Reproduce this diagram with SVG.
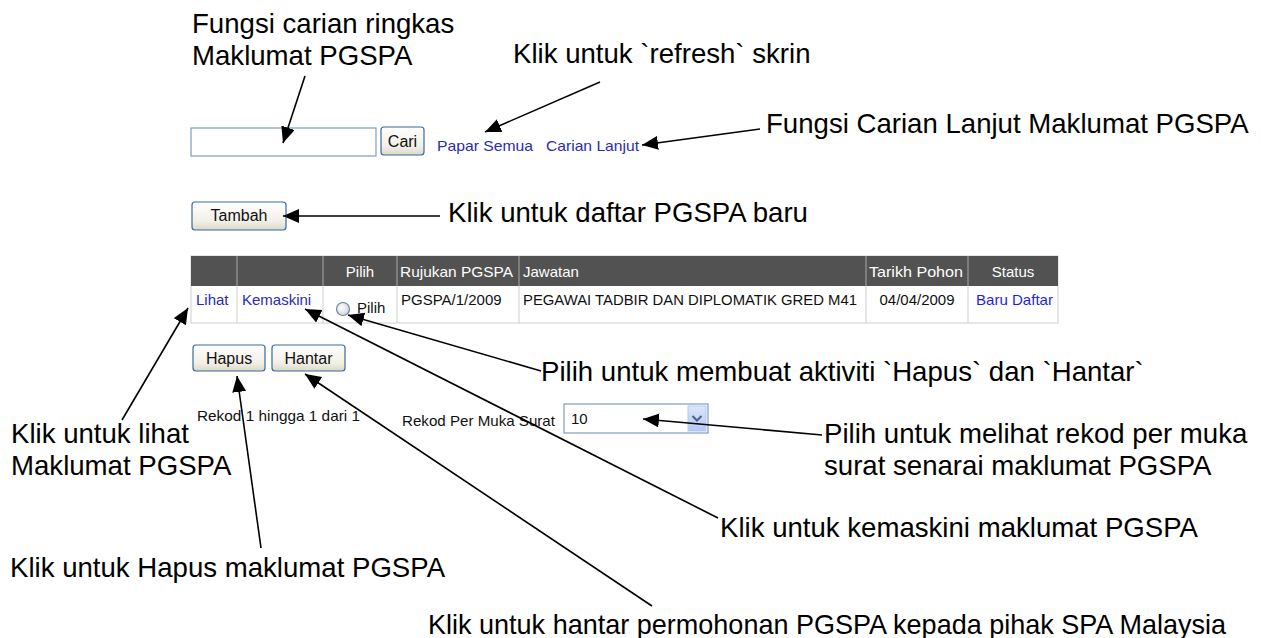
<svg xmlns="http://www.w3.org/2000/svg" width="1261" height="638" viewBox="0 0 1261 638">
<style>
.ann{font-family:"Liberation Sans",Arial,sans-serif;font-size:27.6px;fill:#000}
.ui{font-family:"Liberation Sans",Arial,sans-serif;font-size:15px;fill:#111}
.lnk{font-family:"Liberation Sans",Arial,sans-serif;font-size:15px;fill:#2b2bb0}
.hdr{font-family:"Liberation Sans",Arial,sans-serif;font-size:15px;fill:#fff}
.btn{fill:url(#bg);stroke:#3d6a9c;stroke-width:1.2}
.btxt{font-family:"Liberation Sans",Arial,sans-serif;font-size:16px;fill:#111;text-anchor:middle}
.conn line{stroke:#000;stroke-width:1.6;marker-end:url(#ah)}
</style>
<defs>
<linearGradient id="bg" x1="0" y1="0" x2="0" y2="1">
<stop offset="0" stop-color="#ffffff"/><stop offset="0.7" stop-color="#f1efe6"/><stop offset="1" stop-color="#dcd8c8"/>
</linearGradient>
<linearGradient id="dd" x1="0" y1="0" x2="0" y2="1">
<stop offset="0" stop-color="#dbe6fd"/><stop offset="1" stop-color="#b3c8f5"/>
</linearGradient>
<radialGradient id="rg" cx="0.4" cy="0.4" r="0.7">
<stop offset="0" stop-color="#ffffff"/><stop offset="1" stop-color="#c9cfd8"/>
</radialGradient>
<marker id="ah" markerUnits="userSpaceOnUse" markerWidth="18" markerHeight="16" refX="16" refY="7" orient="auto">
<path d="M0,0 L16,7 L0,14 Z" fill="#000"/>
</marker>
</defs>
<rect width="1261" height="638" fill="#fff"/>

<g id="search-box">
<rect x="191" y="128" width="185" height="28" fill="#fff" stroke="#7f9db9" stroke-width="1.2"/>
</g>
<g id="btn-cari">
<rect class="btn" x="381" y="127" width="43" height="28" rx="3"/>
<text class="btxt" x="402.5" y="147">Cari</text>
</g>
<g id="link-papar-semua"><text class="lnk" x="437" y="151" textLength="96" lengthAdjust="spacingAndGlyphs">Papar Semua</text></g>
<g id="link-carian-lanjut"><text class="lnk" x="546" y="151" textLength="93" lengthAdjust="spacingAndGlyphs">Carian Lanjut</text></g>

<g id="btn-tambah">
<rect class="btn" x="192" y="202" width="94" height="28" rx="3"/>
<text class="btxt" x="239" y="221">Tambah</text>
</g>

<g id="table">
<rect x="191" y="256" width="867" height="67" fill="#fff" stroke="#cfcfcf"/>
<rect x="191" y="256" width="867" height="30" fill="#525252"/>
<g stroke="#a8a8a8" stroke-width="1">
<line x1="237" y1="256" x2="237" y2="286"/><line x1="323" y1="256" x2="323" y2="286"/>
<line x1="397" y1="256" x2="397" y2="286"/><line x1="519" y1="256" x2="519" y2="286"/>
<line x1="866" y1="256" x2="866" y2="286"/><line x1="968" y1="256" x2="968" y2="286"/>
</g>
<g stroke="#cfcfcf" stroke-width="1">
<line x1="237" y1="286" x2="237" y2="323"/><line x1="323" y1="286" x2="323" y2="323"/>
<line x1="397" y1="286" x2="397" y2="323"/><line x1="519" y1="286" x2="519" y2="323"/>
<line x1="866" y1="286" x2="866" y2="323"/><line x1="968" y1="286" x2="968" y2="323"/>
</g>
<text class="hdr" x="360" y="277" text-anchor="middle">Pilih</text>
<text class="hdr" x="400" y="277" textLength="113" lengthAdjust="spacingAndGlyphs">Rujukan PGSPA</text>
<text class="hdr" x="523" y="277">Jawatan</text>
<text class="hdr" x="869" y="277" textLength="94" lengthAdjust="spacingAndGlyphs">Tarikh Pohon</text>
<text class="hdr" x="1013" y="277" text-anchor="middle">Status</text>
<text class="lnk" x="196" y="305">Lihat</text>
<text class="lnk" x="242" y="305">Kemaskini</text>
<circle cx="343" cy="309" r="6.5" fill="url(#rg)" stroke="#6d86a6" stroke-width="1.2"/>
<text class="ui" x="357" y="313">Pilih</text>
<text class="ui" x="401" y="305">PGSPA/1/2009</text>
<text class="ui" x="523" y="305" textLength="334" lengthAdjust="spacingAndGlyphs">PEGAWAI TADBIR DAN DIPLOMATIK GRED M41</text>
<text class="ui" x="917" y="305" text-anchor="middle">04/04/2009</text>
<text class="lnk" x="976" y="305" style="fill:#1f1fe6" textLength="77" lengthAdjust="spacingAndGlyphs">Baru Daftar</text>
</g>

<g id="btn-hapus">
<rect class="btn" x="193" y="345" width="72" height="26" rx="3"/>
<text class="btxt" x="229" y="364">Hapus</text>
</g>
<g id="btn-hantar">
<rect class="btn" x="272" y="345" width="73" height="26" rx="3"/>
<text class="btxt" x="308.5" y="364">Hantar</text>
</g>

<g id="paging-info"><text class="ui" x="197" y="421" textLength="163" lengthAdjust="spacingAndGlyphs">Rekod 1 hingga 1 dari 1</text></g>
<g id="per-page">
<text class="ui" x="402" y="426" textLength="153" lengthAdjust="spacingAndGlyphs">Rekod Per Muka Surat</text>
<rect x="564" y="404" width="144" height="29" fill="#fff" stroke="#7f9db9" stroke-width="1.2"/>
<text class="ui" x="571" y="424">10</text>
<rect x="688" y="406" width="18" height="25" fill="url(#dd)" stroke="#b7c9ef"/>
<path d="M692.5,416 L697,420.5 L701.5,416" fill="none" stroke="#4d6185" stroke-width="2"/>
</g>

<g id="ann-search"><text class="ann" x="192" y="33">Fungsi carian ringkas</text><text class="ann" x="192" y="65">Maklumat PGSPA</text></g>
<g id="ann-refresh"><text class="ann" x="513" y="63">Klik untuk `refresh` skrin</text></g>
<g id="ann-lanjut"><text class="ann" x="766" y="133">Fungsi Carian Lanjut Maklumat PGSPA</text></g>
<g id="ann-tambah"><text class="ann" x="448" y="222">Klik untuk daftar PGSPA baru</text></g>
<g id="ann-pilih"><text class="ann" x="541" y="381">Pilih untuk membuat aktiviti `Hapus` dan `Hantar`</text></g>
<g id="ann-lihat"><text class="ann" x="11" y="443">Klik untuk lihat</text><text class="ann" x="11" y="475">Maklumat PGSPA</text></g>
<g id="ann-perpage"><text class="ann" x="824" y="443">Pilih untuk melihat rekod per muka</text><text class="ann" x="824" y="475">surat senarai maklumat PGSPA</text></g>
<g id="ann-kemaskini"><text class="ann" x="720" y="537">Klik untuk kemaskini maklumat PGSPA</text></g>
<g id="ann-hapus"><text class="ann" x="10" y="577">Klik untuk Hapus maklumat PGSPA</text></g>
<g id="ann-hantar"><text class="ann" x="428" y="634" textLength="798" lengthAdjust="spacingAndGlyphs">Klik untuk hantar permohonan PGSPA kepada pihak SPA Malaysia</text></g>

<g id="connectors" class="conn">
<line x1="305" y1="76" x2="283" y2="143"/>
<line x1="600" y1="82" x2="485" y2="132"/>
<line x1="760" y1="129" x2="642" y2="145"/>
<line x1="440" y1="216" x2="283" y2="216"/>
<line x1="122" y1="420" x2="188" y2="308"/>
<line x1="718" y1="518" x2="305" y2="309"/>
<line x1="541" y1="371" x2="348" y2="315"/>
<line x1="261" y1="548" x2="237" y2="376"/>
<line x1="652" y1="606" x2="305" y2="374"/>
<line x1="822" y1="435" x2="643" y2="419"/>
</g>
</svg>
